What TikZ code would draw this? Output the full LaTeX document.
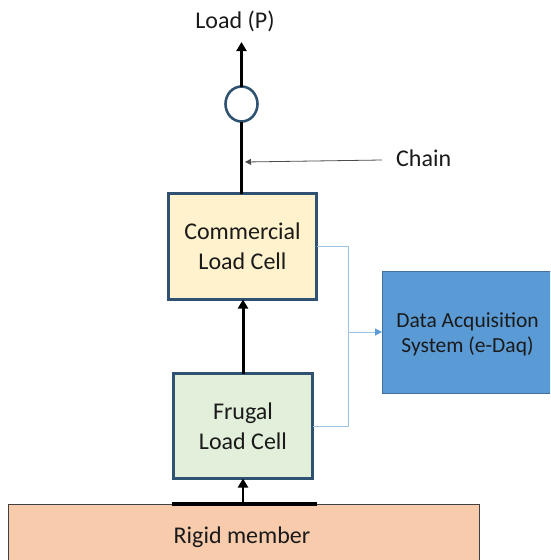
\documentclass[tikz,border=0pt]{standalone}
\usepackage{fontspec}
\setmainfont{Carlito}
\usetikzlibrary{arrows.meta,shapes.geometric}
\definecolor{bord}{HTML}{2F5272}
\definecolor{commfill}{HTML}{FFF2CC}
\definecolor{frugfill}{HTML}{E2EFDA}
\definecolor{daqfill}{HTML}{5B9BD5}
\definecolor{daqbord}{HTML}{41719C}
\definecolor{rigidfill}{HTML}{F8CBAD}
\definecolor{rigidbord}{HTML}{404040}
\definecolor{busline}{HTML}{9DC3E6}
\definecolor{txt}{HTML}{1A1A1A}
\begin{document}
\begin{tikzpicture}[x=1pt,y=-1pt,
  bigfont/.style={font=\fontsize{24}{30}\selectfont, text=txt},
  cellbox/.style={draw=bord, line width=3pt, inner sep=0pt, outer sep=0pt, align=center, bigfont},
  heavy/.style={line width=3pt, black},
  heavyarrow/.style={heavy, -{Triangle[length=9pt,width=10pt]}},
  thinarrow/.style={line width=0.8pt, black!70, -{Triangle[length=6pt,width=6pt]}},
  bus/.style={line width=1pt, busline},
  busarrow/.style={bus, -{Triangle[length=7pt,width=7pt,color=daqfill]}}]
\useasboundingbox (0,0) rectangle (550,560);
\begin{scope}
\clip (0,0) rectangle (550,560);
\node[draw=rigidbord, fill=rigidfill, line width=1pt, minimum width=471pt, minimum height=80pt,
      inner sep=0pt, outer sep=0pt, anchor=north west] (rigid) at (8,504) {};
\node[draw=daqbord, fill=daqfill, line width=1pt, minimum width=180pt, minimum height=122pt,
      inner sep=0pt, outer sep=0pt, anchor=north west] (daq) at (382,271) {};
\end{scope}
\node[bigfont, anchor=base] (rigidlbl) at (242,543) {Rigid member};
\node[align=center, font=\fontsize{21.5}{25}\selectfont, text=txt] (daqlbl) at (467.5,334.5)
  {Data Acquisition\\System (e-Daq)};

\node[cellbox, fill=commfill, minimum width=148pt, minimum height=106pt] (comm) at (242.5,246.5)
  {Commercial\\Load Cell};
\node[cellbox, fill=frugfill, minimum width=139pt, minimum height=105pt] (frug) at (243,426)
  {Frugal\\Load Cell};
\node[ellipse, draw=bord, line width=2.6pt, fill=white, minimum width=32pt, minimum height=35pt,
      inner sep=0pt, outer sep=0pt] (ring) at (241.5,104) {};

% chain
\draw[heavy] (ring.south) -- (ring.south |- comm.north);
\coordinate (loadtip) at (241.5,42);
\draw[heavyarrow] (ring.north) -- (loadtip);
\node[bigfont, anchor=base] (loadlbl) at (235,28) {Load (P)};
\draw[heavyarrow] (frug.north) -- (frug.north |- comm.south);

% base bar
\coordinate (barL) at (172,504);
\coordinate (barR) at (317,504);
\draw[line width=4pt, black] (barL) -- (barR);
\draw[heavyarrow, line width=2.5pt] (frug.south |- barL) -- (frug.south);

% chain label
\coordinate (chainstart) at (382,160);
\coordinate (chaintip) at (245,162);
\draw[thinarrow] (chainstart) -- (chaintip);
\node[bigfont, anchor=base west, inner sep=0pt] (chainlbl) at (396,166) {Chain};

% signal bus
\coordinate (b1) at (348,246.5);
\coordinate (b2) at (348,426);
\draw[bus] (comm.east) -- (b1) -- (b2) -- (frug.east);
\draw[busarrow] (b1 |- daq.west) -- (daq.west);
\end{tikzpicture}
\end{document}
